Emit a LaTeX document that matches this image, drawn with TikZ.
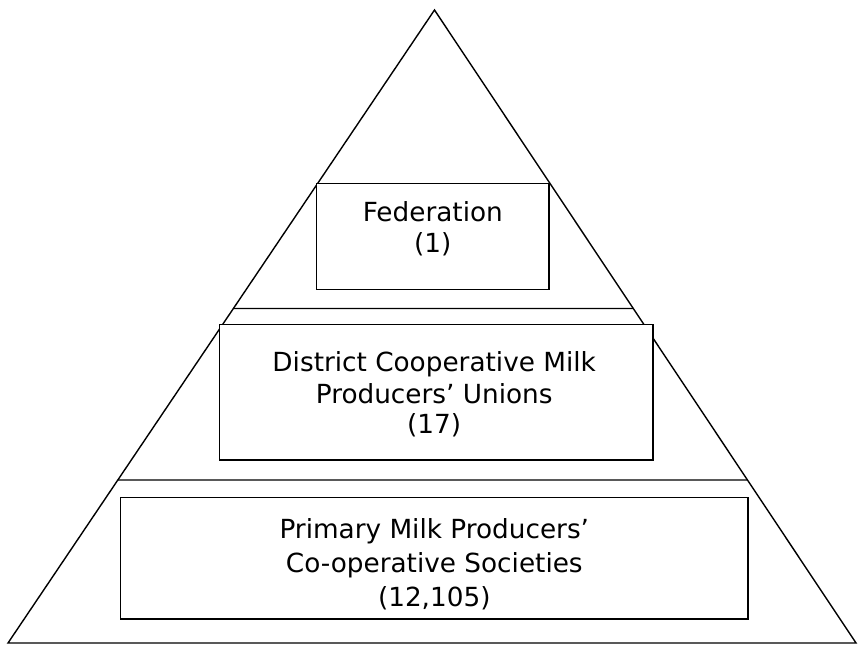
\documentclass[tikz,border=0pt]{standalone}
\usepackage{fontspec}
\setmainfont{DejaVu Sans}
\begin{document}
\begin{tikzpicture}[x=1pt,y=-1pt,
  edge/.style={line width=1.4pt, line join=miter},
  box/.style={draw, line width=1.4pt, inner sep=0pt, fill=white},
  lbl/.style={anchor=base, inner sep=0pt, font=\fontsize{26.3}{31}\selectfont}]
\useasboundingbox (0,0) rectangle (858,645);
% triangle
\coordinate (apex) at (434.5,10);
\coordinate (bl) at (8,643);
\coordinate (br) at (856,643);
\draw[edge] (apex) -- (bl) -- (br) -- cycle;
% dividing lines
\coordinate (l1a) at (intersection of apex--bl and 0,308.5--1,308.5);
\coordinate (l1b) at (intersection of apex--br and 0,308.5--1,308.5);
\coordinate (l2a) at (intersection of apex--bl and 0,480--1,480);
\coordinate (l2b) at (intersection of apex--br and 0,480--1,480);
\draw[edge] (l1a) -- (l1b);
\draw[edge] (l2a) -- (l2b);
% boxes
\node[box, minimum width=232.3pt, minimum height=106pt] (fed) at (432.85,236.3) {};
\node[box, minimum width=433.7pt, minimum height=135.3pt] (dist) at (436.15,392.35) {};
\node[box, minimum width=627.3pt, minimum height=121.3pt] (prim) at (434.35,558.35) {};
% texts
\node[lbl] (f1) at (432.8,221.7) {Federation};
\node[lbl] (f2) at (432.8,252.3) {(1)};
\node[lbl] (d1) at (434.2,371.7) {District Cooperative Milk};
\node[lbl] (d2) at (434.2,403) {Producers’ Unions};
\node[lbl] (d3) at (434.2,433.5) {(17)};
\node[lbl] (p1) at (434.3,538) {Primary Milk Producers’};
\node[lbl] (p2) at (434.3,572) {Co-operative Societies};
\node[lbl] (p3) at (434.3,606) {(12,105)};
\end{tikzpicture}
\end{document}
